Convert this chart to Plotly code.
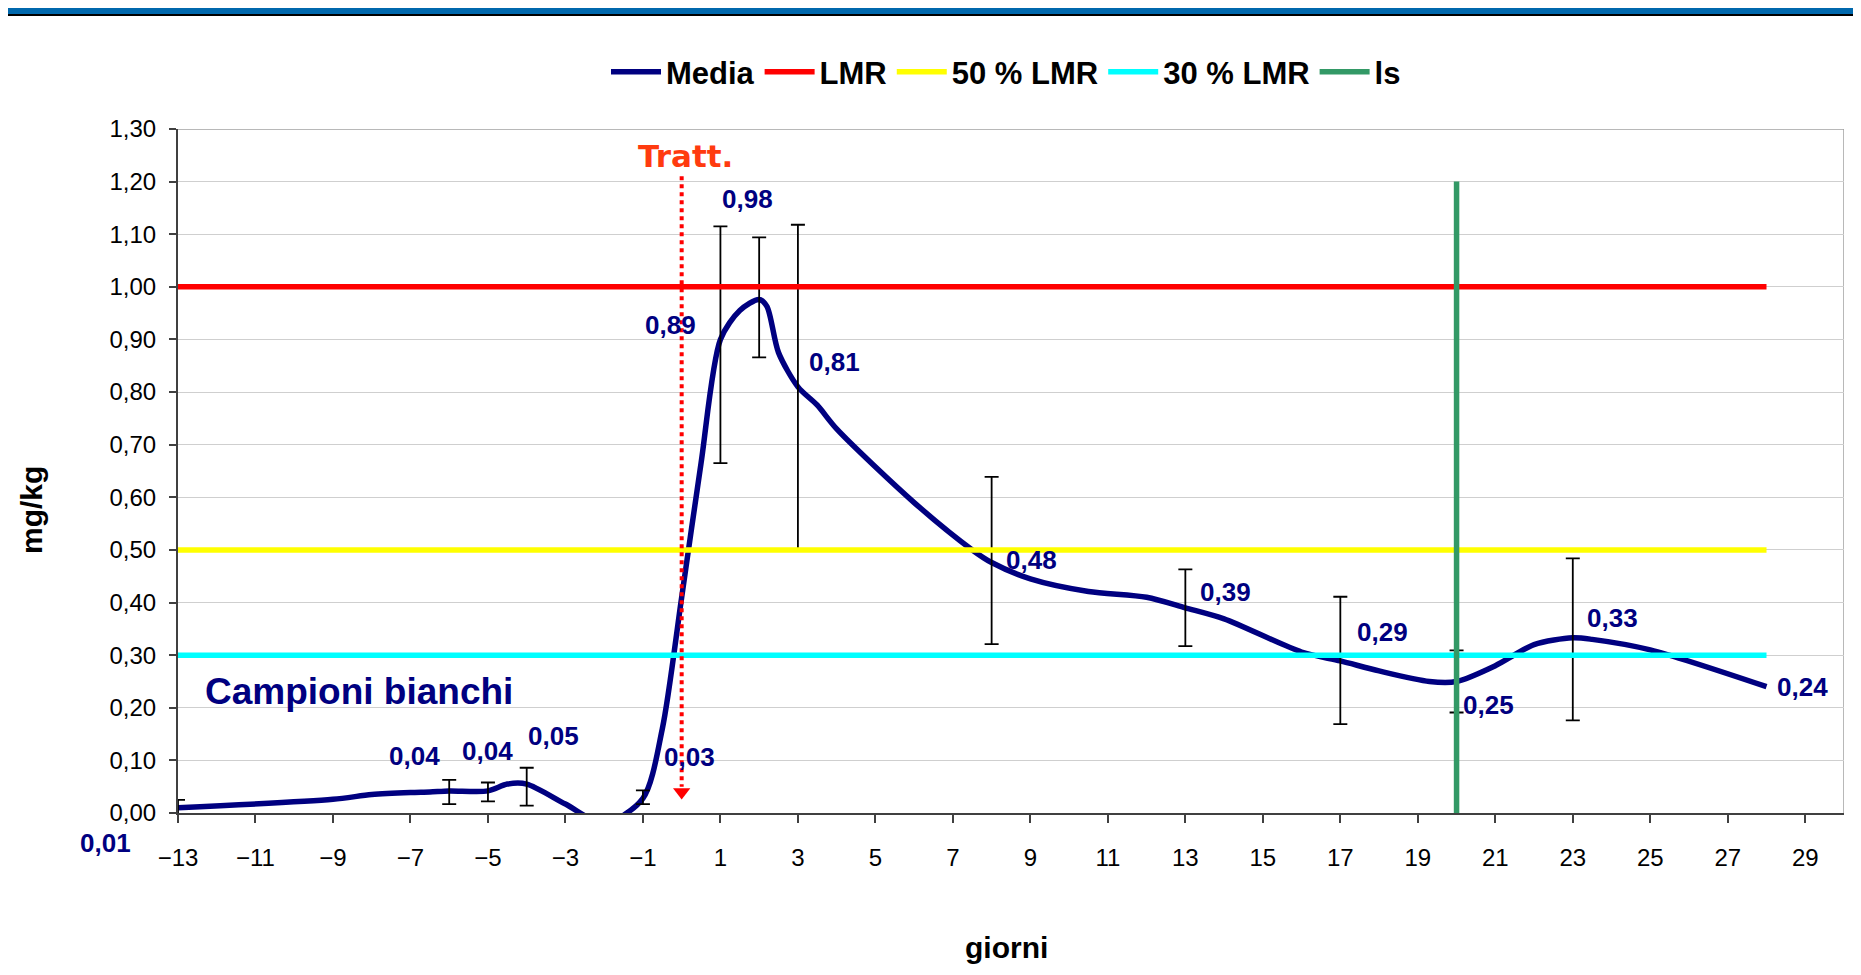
import plotly.graph_objects as go

# Media curve (giorni, mg/kg) as drawn in the chart
curve_days = [-13, -9, -8, -7, -6.5, -6, -5, -4.5, -4, -3, -2, -1, -0.5, 0, 0.5,
              1, 1.5, 2, 2.2, 2.5, 3, 3.5, 4, 6, 7.5, 8, 9, 10.5, 12, 13, 14,
              16, 17, 18, 19.3, 20, 21, 22, 23, 23.5, 25, 28]
curve_mgkg = [0.010, 0.026, 0.035, 0.039, 0.040, 0.042, 0.042, 0.055, 0.055, 0.017, -0.02, 0.028, 0.16, 0.41, 0.665,
              0.90, 0.955, 0.976, 0.963, 0.875, 0.81, 0.775, 0.73, 0.59, 0.50, 0.476, 0.445, 0.421, 0.41, 0.39, 0.369,
              0.306, 0.289, 0.27, 0.25, 0.25, 0.28, 0.32, 0.333, 0.33, 0.31, 0.24]

# sampled days with mean and error bar half-width
sample_days = [-13, -6, -5, -4, -1, 1, 2, 3, 8, 13, 17, 20, 23, 28]
sample_mean = [0.01, 0.04, 0.04, 0.05, 0.03, 0.89, 0.98, 0.81, 0.48, 0.39, 0.29, 0.25, 0.33, 0.24]
sample_err = [0.015, 0.023, 0.018, 0.036, 0.013, 0.225, 0.114, 0.308, 0.159, 0.073, 0.121, 0.059, 0.154, None]

lmr = 1.00
line_days = [-13, 28]
ls_day = 20
ls_top = 1.2
tratt_day = 0
tratt_top = 1.21
tratt_tip = 0.04

NAVY = "#000080"
FONT = "Arial, Liberation Sans, sans-serif"

# label offsets in pixels (dx, dy up)
label_shift = [(-73, -35), (-35, 36), (0, 41), (27, 51), (47, 40), (-50, 20), (-12, 98),
               (37, 25), (40, 0), (40, 16), (42, 28), (32, -24), (40, 21), (36, 0)]

fig = go.Figure()

fig.add_trace(go.Scatter(x=curve_days, y=curve_mgkg, mode="lines", name="Media",
                         line=dict(color=NAVY, width=5.5, shape="spline", smoothing=0.8)))

err_days = [d for d, e in zip(sample_days, sample_err) if e]
err_mean = [m for m, e in zip(sample_mean, sample_err) if e]
err_vals = [e for e in sample_err if e]
fig.add_trace(go.Scatter(x=err_days, y=err_mean, mode="markers", showlegend=False,
                         marker=dict(size=2, color="rgba(0,0,0,0)"),
                         error_y=dict(type="data", array=err_vals, color="black",
                                      thickness=1.8, width=7)))

for level, name, color in [(lmr, "LMR", "#FF0000"), (0.5 * lmr, "50 % LMR", "#FFFF00"),
                           (0.3 * lmr, "30 % LMR", "#00FFFF")]:
    fig.add_trace(go.Scatter(x=line_days, y=[level, level], mode="lines", name=name,
                             line=dict(color=color, width=5.5)))

fig.add_trace(go.Scatter(x=[ls_day, ls_day], y=[0, ls_top], mode="lines", name="ls",
                         line=dict(color="#339966", width=5.5)))

# Tratt. arrow
fig.add_shape(type="line", x0=tratt_day, x1=tratt_day, y0=tratt_top, y1=tratt_tip + 0.01,
              line=dict(color="#FF0000", width=4, dash="dot"))
fig.add_trace(go.Scatter(x=[tratt_day], y=[tratt_tip], mode="markers", showlegend=False,
                         marker=dict(symbol="triangle-down", size=15, color="#FF0000")))
fig.add_annotation(x=tratt_day + 0.1, y=1.248, text="<b>Tratt.</b>", showarrow=False,
                   font=dict(family="DejaVu Sans", size=31, color="#FF3B0F"))

# data labels
for d, m, (dx, dy) in zip(sample_days, sample_mean, label_shift):
    fig.add_annotation(x=d, y=m, text="<b>" + f"{m:.2f}".replace(".", ",") + "</b>",
                       showarrow=False, xshift=dx, yshift=dy,
                       font=dict(family=FONT, size=26, color=NAVY))

fig.add_annotation(x=-12.35, y=0.23, text="<b>Campioni bianchi</b>", showarrow=False,
                   xanchor="left", font=dict(family=FONT, size=37, color=NAVY))

# axis titles
fig.add_annotation(xref="paper", yref="paper", x=0.497, y=-0.196, text="<b>giorni</b>",
                   xanchor="center", yanchor="middle", showarrow=False,
                   font=dict(family=FONT, size=30, color="black"))
fig.add_annotation(xref="paper", yref="paper", x=-0.0876, y=0.443, text="<b>mg/kg</b>",
                   xanchor="center", yanchor="middle", textangle=-90, showarrow=False,
                   font=dict(family=FONT, size=30, color="black"))

# plot border (top / right)
fig.add_shape(type="line", x0=30, x1=30, y0=0, y1=1.3, line=dict(color="#A0A0A0", width=1.5), layer="below")
fig.add_shape(type="line", x0=-13, x1=30, y0=1.3, y1=1.3, line=dict(color="#A0A0A0", width=1.5), layer="below")

# top banner
fig.add_shape(type="rect", xref="paper", yref="paper", x0=-0.2, x1=1.1, y0=1.1681, y1=1.18,
              fillcolor="#0068AD", line_width=0)
fig.add_shape(type="rect", xref="paper", yref="paper", x0=-0.2, x1=1.1, y0=1.1652, y1=1.1681,
              fillcolor="#000000", line_width=0)

fig.update_layout(
    width=1853, height=967,
    margin=dict(l=170, r=17, t=121, b=162),
    paper_bgcolor="white", plot_bgcolor="white",
    separators=",.",
    font=dict(family=FONT, size=24, color="black"),
    showlegend=True,
    legend=dict(orientation="h", x=0.497, xanchor="center", y=1.0833, yanchor="middle",
                font=dict(family=FONT, size=31, color="black", weight="bold"),
                itemwidth=50, tracegroupgap=0, bgcolor="rgba(0,0,0,0)"),
    xaxis=dict(range=[-13, 30], tick0=-13, dtick=2, showgrid=False, zeroline=False,
               showline=True, linecolor="#404040", linewidth=2,
               ticks="outside", ticklen=8, tickwidth=1.5, tickcolor="#404040",
               ticklabelstandoff=14, tickfont=dict(size=24)),
    yaxis=dict(range=[0, 1.3], dtick=0.1, tickformat=".2f", showgrid=True,
               gridcolor="#CFCFCF", gridwidth=1, zeroline=False,
               showline=True, linecolor="#404040", linewidth=2,
               ticks="outside", ticklen=7, tickwidth=1.5, tickcolor="#404040",
               ticklabelstandoff=8, tickfont=dict(size=24)),
)

fig.write_html("out.html")
